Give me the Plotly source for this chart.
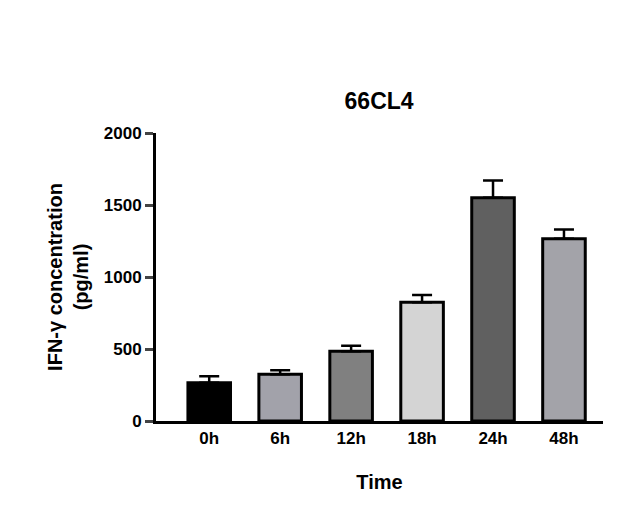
import plotly.graph_objects as go

times = ["0h", "6h", "12h", "18h", "24h", "48h"]
means = [265, 325, 485, 825, 1550, 1265]
errors = [45, 28, 38, 50, 120, 65]
colors = ["#000000", "#a2a2aa", "#808080", "#d4d4d4", "#606060", "#a3a3a9"]

fig = go.Figure(go.Bar(
  x=times,
  y=means,
  marker=dict(color=colors, line=dict(color="black", width=3)),
  width=0.6,
  error_y=dict(type="data", array=errors, arrayminus=[0] * len(errors), symmetric=False,
               color="black", thickness=2.5, width=10),
))
fig.update_layout(
  width=629, height=529,
  title=dict(text="<b>66CL4</b>", x=0.59, xanchor="center", y=0.84, font=dict(size=23)),
  font=dict(family="Liberation Sans", size=17, color="black"),
  plot_bgcolor="white", paper_bgcolor="white",
  margin=dict(l=148, r=34, t=125, b=116),
  showlegend=False,
)
fig.update_yaxes(
  range=[0, 2000], tickvals=[0, 500, 1000, 1500, 2000],
  ticktext=["<b>0</b>", "<b>500</b>", "<b>1000</b>", "<b>1500</b>", "<b>2000</b>"],
  showline=True, linewidth=3, linecolor="black", ticks="outside", ticklen=8, tickwidth=3,
  showgrid=False, zeroline=False,
  title=dict(text="<b>IFN-γ concentration<br>(pg/ml)</b>", standoff=10, font=dict(size=20)),
)
fig.update_xaxes(
  tickvals=times, ticktext=["<b>%s</b>" % t for t in times],
  showline=True, linewidth=3, linecolor="black", ticks="", showgrid=False,
  range=[-0.75, 5.55],
  title=dict(text="<b>Time</b>", standoff=28, font=dict(size=20)),
)

fig.write_html("out.html")
